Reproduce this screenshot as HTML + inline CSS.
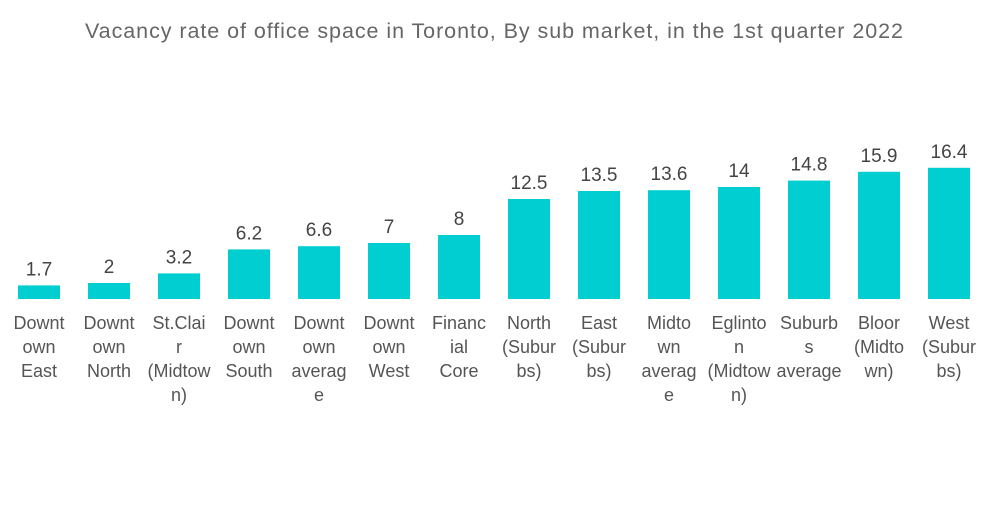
<!DOCTYPE html>
<html><head><meta charset="utf-8"><style>
body{margin:0;background:#fff;width:1000px;height:504px;overflow:hidden;font-family:"Liberation Sans",sans-serif}
</style></head><body>
<svg width="1000" height="504">
<text x="494" y="38" text-anchor="middle" font-size="21.5" textLength="818" lengthAdjust="spacing" fill="#666">Vacancy rate of office space in Toronto, By sub market, in the 1st quarter 2022</text>
<g id="bars"></g>
</svg>
<script>
const categories=[["Downt","own","East"],["Downt","own","North"],["St.Clai","r","(Midtow","n)"],["Downt","own","South"],["Downt","own","averag","e"],["Downt","own","West"],["Financ","ial","Core"],["North","(Subur","bs)"],["East","(Subur","bs)"],["Midto","wn","averag","e"],["Eglinto","n","(Midtow","n)"],["Suburb","s","average"],["Bloor","(Midto","wn)"],["West","(Subur","bs)"]];
const values=[1.7,2,3.2,6.2,6.6,7,8,12.5,13.5,13.6,14,14.8,15.9,16.4];
const valueLabels=["1.7","2","3.2","6.2","6.6","7","8","12.5","13.5","13.6","14","14.8","15.9","16.4"];
const g=document.getElementById('bars');const NS='http://www.w3.org/2000/svg';
const x0=18,step=70,bw=42,base=299,scale=8.0;
const xs=i=>x0+i*step, ys=v=>base-v*scale;
values.forEach((v,i)=>{
 const r=document.createElementNS(NS,'rect');
 r.setAttribute('x',xs(i));r.setAttribute('y',ys(v));r.setAttribute('width',bw);r.setAttribute('height',base-ys(v));r.setAttribute('fill','#00ced1');
 
 
 g.appendChild(r);
 const t=document.createElementNS(NS,'text');
 t.setAttribute('x',xs(i)+bw/2);t.setAttribute('y',ys(v)-10);t.setAttribute('text-anchor','middle');t.setAttribute('font-size','19');t.setAttribute('fill','#444');
 t.textContent=valueLabels[i];
 
 
 g.appendChild(t);
 categories[i].forEach((line,j)=>{
  const c=document.createElementNS(NS,'text');
  c.setAttribute('x',xs(i)+bw/2);c.setAttribute('y',329+j*24);c.setAttribute('text-anchor','middle');c.setAttribute('font-size','18');c.setAttribute('fill','#555');
  c.textContent=line;
  
  
  g.appendChild(c);
 });
});
</script>
</body></html>
